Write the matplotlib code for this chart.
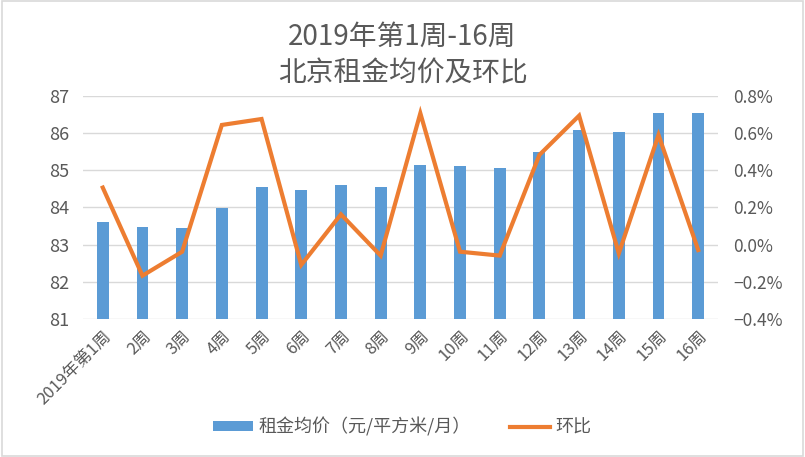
import matplotlib.pyplot as plt
from matplotlib.ticker import FuncFormatter
from matplotlib.patches import Rectangle

plt.rcParams['font.family'] = ['Noto Sans CJK SC', 'DejaVu Sans']

weeks = ['2019年第1周', '2周', '3周', '4周', '5周', '6周', '7周', '8周',
         '9周', '10周', '11周', '12周', '13周', '14周', '15周', '16周']
rent = [83.62, 83.48, 83.45, 83.99, 84.55, 84.47, 84.61, 84.55,
        85.14, 85.12, 85.06, 85.49, 86.09, 86.03, 86.54, 86.54]
mom = [0.307, -0.167, -0.038, 0.644, 0.676, -0.109, 0.163, -0.059,
       0.707, -0.038, -0.059, 0.483, 0.694, -0.047, 0.590, -0.029]

blue = '#5B9BD5'
orange = '#ED7D31'
gray = '#595959'

fig = plt.figure(figsize=(8.05, 4.57), dpi=100)
fig.patches.append(Rectangle((0.002, 0.002), 0.996, 0.996, transform=fig.transFigure,
                             fill=False, edgecolor='#D9D9D9', linewidth=1.2))
ax = fig.add_axes([0.103, 0.302, 0.789, 0.488])
ax2 = ax.twinx()

x = range(len(weeks))
ax.bar(x, rent, width=0.3, color=blue, label='租金均价（元/平方米/月）', zorder=2)
ax2.plot(x, mom, color=orange, linewidth=3, label='环比', solid_joinstyle='miter')

ax.set_ylim(81, 87)
ax.set_yticks(range(81, 88))
ax2.set_ylim(-0.4, 0.8)
ax2.set_yticks([-0.4, -0.2, 0.0, 0.2, 0.4, 0.6, 0.8])
ax2.yaxis.set_major_formatter(FuncFormatter(lambda v, p: ('%.1f%%' % v).replace('-', '−')))
ax.set_xlim(-0.5, len(weeks) - 0.5)

ax.grid(axis='y', color='#D9D9D9', linewidth=1, zorder=0)
ax.set_axisbelow(True)
for a in (ax, ax2):
    for s in a.spines.values():
        s.set_visible(False)
    a.tick_params(length=0, colors=gray)
ax.tick_params(axis='y', pad=10, labelsize=13)
ax2.tick_params(axis='y', pad=11, labelsize=12.5)

ax.set_xticks(list(x))
ax.set_xticklabels(weeks, rotation=45, ha='right', rotation_mode='anchor', fontsize=12)
ax.tick_params(axis='x', pad=6)

fig.text(0.5, 0.92, '2019年第1周-16周', ha='center', va='center', fontsize=20, color=gray)
fig.text(0.5, 0.84, '北京租金均价及环比', ha='center', va='center', fontsize=20, color=gray)

h1, l1 = ax.get_legend_handles_labels()
h2, l2 = ax2.get_legend_handles_labels()
fig.legend(h1 + h2, l1 + l2, loc='center', bbox_to_anchor=(0.5, 0.066), ncol=2,
           frameon=False, fontsize=13, labelcolor=gray, handlelength=2.2,
           handletextpad=0.3, columnspacing=2.2, handleheight=0.45)

fig.savefig('out.png', dpi=100)
